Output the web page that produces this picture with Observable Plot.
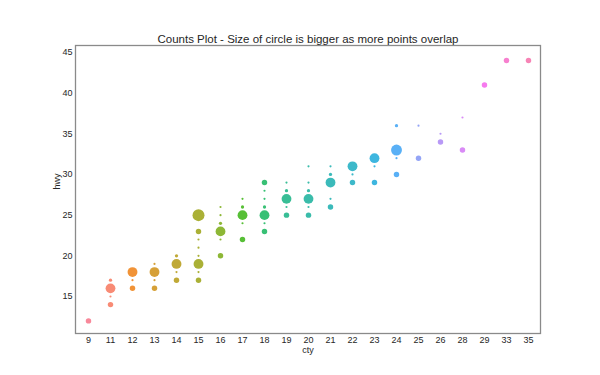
<!DOCTYPE html>
<html>
<head>
<meta charset="utf-8">
<script src="https://cdn.jsdelivr.net/npm/d3@7"></script>
<script src="https://cdn.jsdelivr.net/npm/@observablehq/plot@0.6"></script>
<style>
  html, body { margin: 0; padding: 0; background: #fff; }
  #chart { width: 600px; height: 375px; }
</style>
</head>
<body>
<div id="chart"></div>
<script>
// ---- data ----
const title = "Counts Plot - Size of circle is bigger as more points overlap";
const ctyCategories = [9, 11, 12, 13, 14, 15, 16, 17, 18, 19, 20, 21, 22, 23, 24, 25, 26, 28, 29, 33, 35];
const yTicks = [15, 20, 25, 30, 35, 40, 45];

const cty = [
  9,
  11, 11, 11, 11,
  12, 12, 12,
  13, 13, 13, 13,
  14, 14, 14, 14,
  15, 15, 15, 15, 15, 15, 15, 15,
  16, 16, 16, 16, 16, 16,
  17, 17, 17, 17, 17,
  18, 18, 18, 18, 18, 18, 18,
  19, 19, 19, 19, 19,
  20, 20, 20, 20, 20, 20,
  21, 21, 21, 21, 21,
  22, 22, 22,
  23, 23, 23,
  24, 24, 24, 24,
  25, 25,
  26, 26,
  28, 28,
  29,
  33,
  35
];
const hwy = [
  12,
  14, 15, 16, 17,
  16, 17, 18,
  16, 17, 18, 19,
  17, 18, 19, 20,
  17, 18, 19, 20, 21, 22, 23, 25,
  20, 22, 23, 24, 25, 26,
  22, 24, 25, 26, 27,
  23, 24, 25, 26, 27, 28, 29,
  25, 26, 27, 28, 29,
  25, 26, 27, 28, 29, 31,
  26, 27, 29, 30, 31,
  29, 30, 31,
  29, 31, 32,
  30, 32, 33, 36,
  32, 36,
  34, 35,
  33, 37,
  41,
  44,
  44
];
// relative circle size as seen in the picture
const counts = [
  5,
  5, 2, 9, 3,
  5, 2, 9,
  5, 2, 9, 2,
  5, 2, 9, 3,
  5, 2, 9, 2, 2, 2, 5, 11,
  5, 2, 9, 3, 2, 2,
  5, 2, 9, 3, 2,
  5, 2, 9, 3, 2, 2, 5,
  5, 2, 9, 3, 2,
  5, 2, 9, 3, 2, 2,
  5, 2, 9, 3, 2,
  5, 2, 9,
  5, 2, 9,
  5, 2, 10, 3,
  5, 2,
  5, 2,
  5, 2,
  5,
  5,
  5
];

// ---- HUSL (HSLuv) palette, like seaborn's husl_palette(n, l=.7) ----
const M = [[3.240969941904521, -1.537383177570093, -0.498610760293],
           [-0.96924363628087, 1.87596750150772, 0.041555057407175],
           [0.055630079696993, -0.20397695888897, 1.056971514242878]];
const refU = 0.19783000664283, refV = 0.46831999493879;
const kappa = 903.2962962, epsilon = 0.0088564516;
function getBounds(L) {
  const res = [];
  const sub1 = Math.pow(L + 16, 3) / 1560896;
  const sub2 = sub1 > epsilon ? sub1 : L / kappa;
  for (const [m1, m2, m3] of M) {
    for (const t of [0, 1]) {
      const top1 = (284517 * m1 - 94839 * m3) * sub2;
      const top2 = (838422 * m3 + 769860 * m2 + 731718 * m1) * L * sub2 - 769860 * t * L;
      const bottom = (632260 * m3 - 126452 * m2) * sub2 + 126452 * t;
      res.push([top1 / bottom, top2 / bottom]);
    }
  }
  return res;
}
function maxChroma(L, H) {
  const hr = H / 360 * Math.PI * 2;
  let min = Infinity;
  for (const [slope, intercept] of getBounds(L)) {
    const len = intercept / (Math.sin(hr) - slope * Math.cos(hr));
    if (len >= 0) min = Math.min(min, len);
  }
  return min;
}
function hsluv(H, S, L) {
  const C = maxChroma(L, H) / 100 * S;
  const hr = H / 180 * Math.PI;
  const U = Math.cos(hr) * C, V = Math.sin(hr) * C;
  const vu = U / (13 * L) + refU, vv = V / (13 * L) + refV;
  const Y = L <= 8 ? L / kappa : Math.pow((L + 16) / 116, 3);
  const X = -(9 * Y * vu) / ((vu - 4) * vv - vu * vv);
  const Z = (9 * Y - 15 * vv * Y - vv * X) / (3 * vv);
  const rgb = M.map(r => {
    const c = r[0] * X + r[1] * Y + r[2] * Z;
    const v = c <= 0.0031308 ? 12.92 * c : 1.055 * Math.pow(c, 1 / 2.4) - 0.055;
    return Math.round(Math.max(0, Math.min(1, v)) * 255);
  });
  return d3.rgb(rgb[0], rgb[1], rgb[2]).formatHex();
}
const n = ctyCategories.length;
const palette = d3.range(n).map(i => hsluv(((i / n + 0.01) % 1) * 359, 0.9 * 99, 0.7 * 99));

const data = cty.map((c, i) => ({cty: String(c), hwy: hwy[i], counts: counts[i]}));
const domainX = ctyCategories.map(String);

const chart = Plot.plot({
  width: 600,
  height: 375,
  marginLeft: 75,
  marginRight: 60,
  marginTop: 45,
  marginBottom: 42,
  style: {fontFamily: "'Liberation Sans', Arial, sans-serif", fontSize: "9px", color: "#262626", background: "#fff"},
  x: {type: "point", domain: domainX, padding: 0.5},
  y: {domain: [10.45, 45.85]},
  r: {type: "linear", domain: [0, 11], range: [0, 6]},
  color: {type: "ordinal", domain: domainX, range: palette},
  marks: [
    Plot.frame({stroke: "#8a8a8a", strokeWidth: 1.3}),
    Plot.axisX({tickSize: 0, tickPadding: 3, label: null}),
    Plot.axisY({ticks: yTicks, tickSize: 0, tickPadding: 3, label: null}),
    Plot.dot(data, {x: "cty", y: "hwy", r: "counts", fill: "cty", stroke: "none"}),
    Plot.text(["cty"], {frameAnchor: "bottom", dy: 19, fill: "#262626", fontSize: 9}),
    Plot.text(["hwy"], {frameAnchor: "left", dx: -18, rotate: -90, fill: "#262626", fontSize: 9}),
    Plot.text([title], {frameAnchor: "top", lineAnchor: "bottom", dy: -3, fill: "#262626", fontSize: 11.5})
  ]
});
document.getElementById("chart").appendChild(chart);
</script>
</body>
</html>
